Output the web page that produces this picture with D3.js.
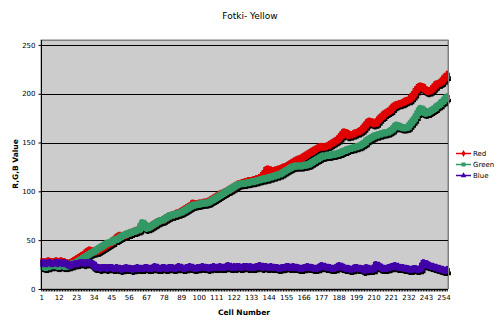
<!DOCTYPE html>
<html><head><meta charset="utf-8">
<script src="https://cdn.jsdelivr.net/npm/d3@7"></script>
<style>body{margin:0;background:#fff}svg{display:block}text{font-family:"DejaVu Sans",Verdana,sans-serif;fill:#000}</style>
</head><body>
<script>
const title = "Fotki- Yellow";
const xTitle = "Cell Number";
const yTitle = "R,G,B Value";
const categories = d3.range(1, 257);
const xTickLabels = [1,12,23,34,45,56,67,78,89,100,111,122,133,144,155,166,177,188,199,210,221,232,243,254];
const yTicks = [0,50,100,150,200,250];
const seriesNames = ["Red","Green","Blue"];
const red = [
28,28,27,28,29,28,28,27,28,29,28,28,29,28,28,27,
26,26,27,28,29,30,31,32,33,34,35,36,38,39,40,39,
38,38,38,39,40,41,42,43,44,45,46,47,48,50,51,53,
54,55,54,54,55,56,56,57,58,58,59,60,60,61,64,66,
65,64,63,63,64,65,66,67,68,69,70,70,71,72,73,74,
75,75,76,76,77,78,78,79,80,81,82,83,84,85,86,88,
87,87,87,88,88,88,89,89,89,90,91,92,93,94,95,96,
97,98,98,99,100,101,102,103,104,105,106,107,108,108,109,109,
110,110,111,111,111,112,112,113,113,114,115,117,119,122,123,122,
120,120,121,122,122,123,123,124,125,125,126,127,128,129,130,131,
132,133,133,134,135,136,137,138,139,140,141,142,143,144,145,146,
146,145,146,146,147,148,149,150,151,152,153,155,157,159,161,160,
158,157,158,158,159,160,160,161,162,163,165,167,169,171,172,171,
170,169,170,172,174,176,177,179,180,181,182,183,185,187,188,189,
189,190,190,191,192,193,193,194,196,198,200,203,205,207,208,207,
205,204,203,202,203,204,206,208,210,210,211,212,214,216,218,220];
const green = [
23,23,22,22,23,23,24,24,24,24,23,23,24,24,23,23,
23,24,25,26,26,27,28,29,30,31,32,33,34,35,36,37,
38,39,40,41,42,43,44,45,46,47,47,48,49,50,50,51,
52,53,54,55,55,56,57,57,58,58,59,60,60,61,65,68,
66,63,62,63,64,65,66,67,68,69,70,70,71,72,73,74,
75,75,76,76,77,77,78,78,79,80,81,82,83,84,85,86,
86,86,87,87,87,88,88,88,88,89,90,91,92,93,94,95,
96,97,98,99,100,101,102,103,104,105,106,107,107,108,108,108,
108,109,109,109,110,110,110,111,111,112,112,113,113,113,114,114,
115,115,116,116,117,117,118,119,120,121,122,123,124,125,125,126,
126,126,126,126,126,127,127,127,128,129,130,131,132,133,134,135,
136,136,136,137,137,137,137,138,138,138,139,139,140,141,141,142,
143,143,144,144,145,145,146,146,147,148,149,150,152,153,154,155,
156,157,157,158,158,159,159,160,160,160,161,162,163,165,167,168,
167,166,166,165,165,165,166,168,170,172,174,177,180,183,185,184,
181,180,180,181,182,183,184,185,187,188,189,191,192,194,196,197];
const blue = [
26,27,26,26,27,27,26,26,27,27,26,27,27,26,27,26,
25,24,24,25,25,26,26,26,27,27,27,26,27,27,27,26,
25,23,22,22,22,21,22,22,22,21,22,22,22,21,21,22,
21,21,20,21,21,22,21,21,21,20,21,21,22,21,21,21,
21,22,22,21,21,21,22,23,22,21,21,21,22,22,21,21,
22,22,22,21,21,22,23,22,22,21,21,22,22,23,22,22,
21,21,22,22,22,23,22,22,22,21,22,22,23,22,22,22,
23,22,22,22,23,24,23,22,22,23,22,23,23,22,22,23,
23,23,22,23,22,22,22,23,23,24,23,22,23,23,22,22,
23,22,22,22,22,21,21,22,22,22,23,23,22,22,23,22,
22,22,21,21,21,22,22,23,22,22,22,21,21,21,22,23,
24,23,23,22,22,22,21,21,21,22,23,24,23,22,22,21,
21,21,20,20,21,22,22,21,21,21,20,19,22,21,20,20,
20,22,25,24,23,22,21,21,21,21,22,22,23,23,24,23,
22,22,22,22,21,21,21,20,20,20,21,21,20,20,21,24,
27,26,25,24,24,23,23,22,22,21,21,20,20,19,19,20];
const colors = ["#e00000","#339966","#4200a8"];

const W = 502, H = 326;
const plot = {l:41, r:448, t:40, b:289};
const svg = d3.select("body").append("svg").attr("width",W).attr("height",H);
svg.append("rect").attr("width",W).attr("height",H).attr("fill","#fff");

const x = d3.scaleBand().domain(categories).range([plot.l, plot.r]).padding(0);
const y = d3.scaleLinear().domain([0,255]).range([plot.b, plot.t]);
const cx = d => x(d) + x.bandwidth()/2;

svg.append("rect").attr("x",plot.l).attr("y",plot.t).attr("width",plot.r-plot.l).attr("height",plot.b-plot.t)
  .attr("fill","#cccccc").attr("stroke","#808080").attr("stroke-width",1);

// gridlines
svg.append("g").selectAll("line").data(yTicks.filter(v=>v>0)).join("line")
  .attr("x1",plot.l).attr("x2",plot.r).attr("y1",d=>Math.round(y(d))+0.5).attr("y2",d=>Math.round(y(d))+0.5)
  .attr("stroke","#000").attr("stroke-width",1);

// series
const seriesData = [red, green, blue];
const line = d3.line().x((d,i)=>cx(categories[i])).y(d=>y(d)).curve(d3.curveStepAfter);
const SW = 5.5;
seriesData.forEach((vals, k) => {
  const g = svg.append("g");
  g.append("path").attr("d", line(vals)).attr("transform","translate(1,2)")
    .attr("fill","none").attr("stroke","#000").attr("stroke-width",SW).attr("stroke-linejoin","miter");
  g.selectAll("rect.s").data(vals).join("rect")
    .attr("x",(d,i)=>cx(categories[i])-1.5+1).attr("y",d=>y(d)-3.5+2).attr("width",3).attr("height",7).attr("fill","#000");
});
seriesData.forEach((vals, k) => {
  const g = svg.append("g");
  g.append("path").attr("d", line(vals))
    .attr("fill","none").attr("stroke",colors[k]).attr("stroke-width",SW).attr("stroke-linejoin","miter");
  g.selectAll("rect").data(vals).join("rect")
    .attr("x",(d,i)=>cx(categories[i])-1.5).attr("y",d=>y(d)-3.5).attr("width",3).attr("height",7).attr("fill",colors[k]);
});

// right/top border redraw
svg.append("line").attr("x1",plot.l).attr("x2",plot.r).attr("y1",plot.t+0.5).attr("y2",plot.t+0.5).attr("stroke","#808080");
svg.append("line").attr("x1",plot.r+0.5).attr("x2",plot.r+0.5).attr("y1",plot.t).attr("y2",plot.b).attr("stroke","#808080");

// y axis
const yAxis = d3.axisLeft(y).tickValues(yTicks).tickSize(3).tickPadding(3);
const gy = svg.append("g").attr("transform",`translate(${plot.l+0.5},0)`).call(yAxis);
gy.select(".domain").attr("d",`M0,${plot.t}V${plot.b}`).attr("stroke","#000");
gy.selectAll("text").style("font-size","7px").attr("font-family","DejaVu Sans");

// x axis
const xAxis = d3.axisBottom(x).tickValues(categories).tickSize(2).tickPadding(4)
  .tickFormat(d => xTickLabels.includes(d) ? d : "");
const gx = svg.append("g").attr("transform",`translate(0,${plot.b+0.5})`).call(xAxis);
gx.select(".domain").attr("d",`M${plot.l},0H${plot.r}`).attr("stroke","#000");
gx.selectAll("text").style("font-size","7px").attr("font-family","DejaVu Sans");

// titles
svg.append("text").attr("x",250).attr("y",19).attr("text-anchor","middle").style("font-size","9px").text(title);
svg.append("text").attr("x",244).attr("y",315).attr("text-anchor","middle").style("font-size","7.5px").style("font-weight","bold").text(xTitle);
svg.append("text").attr("transform",`translate(18,164) rotate(-90)`).attr("text-anchor","middle").style("font-size","7.5px").style("font-weight","bold").text(yTitle);

// legend
const legY = [153,164,175];
const lg = svg.append("g");
seriesNames.forEach((n,k)=>{
  const gy2 = legY[k];
  lg.append("line").attr("x1",456).attr("x2",471).attr("y1",gy2+0.5).attr("y2",gy2+0.5).attr("stroke",colors[k]).attr("stroke-width",1.5);
  const mx = 463.5, my = gy2+0.5;
  const sym = [d3.symbolDiamond, d3.symbolSquare, d3.symbolTriangle][k];
  const size = [14, 16, 14][k];
  lg.append("path").attr("d", d3.symbol(sym, size)()).attr("transform",`translate(${mx},${my})`).attr("fill",colors[k]);
  lg.append("text").attr("x",473).attr("y",gy2+3).style("font-size","7px").text(n);
});
</script>
</body></html>
